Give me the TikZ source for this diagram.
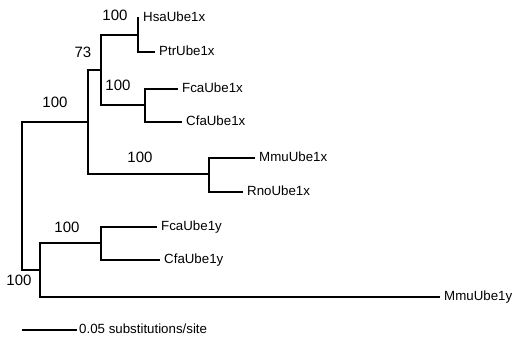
\documentclass[tikz,border=0pt]{standalone}
\usepackage{fontspec}
\setmainfont{Liberation Sans}
\begin{document}
\begin{tikzpicture}[x=1pt,y=-1pt,
  branch/.style={line width=1.9pt,line join=miter},
  leaf/.style={anchor=west,inner xsep=4pt,inner ysep=0pt,font=\fontsize{13.3}{14}\selectfont,text height=0.72em,text depth=0pt},
  boot/.style={inner sep=0pt,font=\fontsize{15}{16}\selectfont}]
\useasboundingbox (0,0) rectangle (515,341);
% internal nodes
\coordinate (R) at (22,196);
\coordinate (A) at (88,122);
\coordinate (C) at (101,70);
\coordinate (H) at (138,35);
\coordinate (F) at (145,105);
\coordinate (M) at (209,174);
\coordinate (B) at (40,270);
\coordinate (Y) at (101,243);
% leaves
\node[leaf] (hsa)  at (139,18)  {HsaUbe1x};
\node[leaf] (ptr)  at (155,52)  {PtrUbe1x};
\node[leaf] (fcax) at (178,89)  {FcaUbe1x};
\node[leaf] (cfax) at (182,122) {CfaUbe1x};
\node[leaf] (mmux) at (255,158) {MmuUbe1x};
\node[leaf] (rnox) at (243,192) {RnoUbe1x};
\node[leaf] (fcay) at (157,227) {FcaUbe1y};
\node[leaf] (cfay) at (160,260) {CfaUbe1y};
\node[leaf] (mmuy) at (440,297) {MmuUbe1y};
% branches
\draw[branch] (R) |- (A);
\draw[branch] (R) |- (B);
\draw[branch] (A) |- (C);
\draw[branch] (A) |- (M);
\draw[branch] (C) |- (H);
\draw[branch] (C) |- (F);
\draw[branch] (H) |- (hsa.west);
\draw[branch] (H) |- (ptr.west);
\draw[branch] (F) |- (fcax.west);
\draw[branch] (F) |- (cfax.west);
\draw[branch] (M) |- (mmux.west);
\draw[branch] (M) |- (rnox.west);
\draw[branch] (B) |- (Y);
\draw[branch] (B) |- (mmuy.west);
\draw[branch] (Y) |- (fcay.west);
\draw[branch] (Y) |- (cfay.west);
% bootstrap support values
\node[boot] (b1) at (115,15)  {100};
\node[boot] (b2) at (83,52)   {73};
\node[boot] (b3) at (118,85)  {100};
\node[boot] (b4) at (55,102)  {100};
\node[boot] (b5) at (140,157) {100};
\node[boot] (b6) at (67,227)  {100};
\node[boot] (b7) at (19,280)  {100};
% scale bar
\coordinate (sbl) at (22,330);
\node[leaf,inner xsep=2pt] (sbt) at (77,330) {0.05 substitutions/site};
\draw[branch] (sbl) -- (sbt.west);
\end{tikzpicture}
\end{document}
